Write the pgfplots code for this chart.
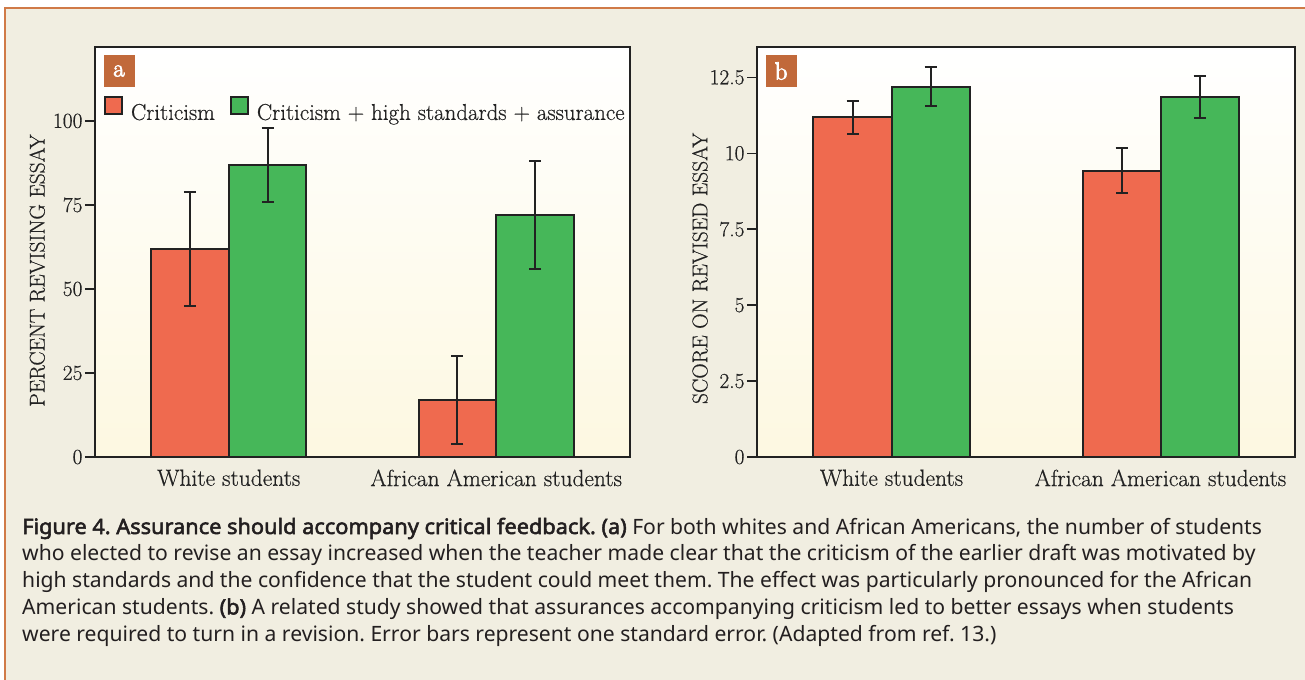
\documentclass[border=0pt]{standalone}
\usepackage{pgfplots}
\pgfplotsset{compat=1.18}
\usepackage{fontspec}
\setmainfont{Latin Modern Roman}[FakeBold=0.5, BoldFont={Latin Modern Roman}, BoldFeatures={FakeBold=3}]
\newfontfamily\capfont{Noto Sans}[BoldFont={Noto Sans}, BoldFeatures={FakeBold=2.5, FakeStretch=1.03}]
\definecolor{bgbeige}{RGB}{241,238,225}
\definecolor{barred}{RGB}{239,106,79}
\definecolor{bargreen}{RGB}{70,183,89}
\definecolor{labelorange}{RGB}{193,105,58}
\definecolor{borderorange}{RGB}{208,122,71}
\definecolor{cream}{RGB}{253,248,225}
\definecolor{axisdark}{RGB}{34,34,34}
\definecolor{captext}{RGB}{35,31,32}

\pgfplotsset{
  panel/.style={
    width=535bp, height=410bp, scale only axis, anchor=south west,
    axis background/.style={top color=white, bottom color=cream},
    axis line style={line width=2.2bp, draw=axisdark},
    ybar=0pt, bar width=0.29,
    xmin=-0.5, xmax=1.5, ymin=0,
    xtick={0,1}, xticklabels={White students, African American students},
    xtick style={draw=none},
    ytick pos=left, tick align=outside, major tick length=10bp,
    ytick style={line width=1.6bp, draw=axisdark},
    yticklabel style={font=\fontsize{21.5}{24}\selectfont, text=axisdark, xshift=1bp},
    xticklabel style={font=\fontsize{23.5}{26}\selectfont, text=axisdark, yshift=1bp},
    ylabel style={font=\fontsize{21.5}{24}\selectfont, text=axisdark, at={(axis description cs:-0.108,0.455)}, anchor=center},
    every axis plot/.append style={draw=axisdark, line width=2bp,
      error bars/y dir=both, error bars/y explicit,
      error bars/error bar style={line width=2bp, draw=axisdark},
      error bars/error mark options={rotate=90, mark size=6bp, line width=2bp, draw=axisdark}},
  },
}

\begin{document}
\frenchspacing
\begin{tikzpicture}
\useasboundingbox (0bp,0bp) rectangle (1305bp,-680bp);
\fill[white] (0bp,0bp) rectangle (1305bp,-680bp);
\fill[bgbeige] (5bp,-8bp) rectangle (1305bp,-680bp);
\draw[borderorange, line width=1.5bp] (5bp,-680bp) -- (5bp,-8bp) -- (1305bp,-8bp);

% Panel a
\begin{axis}[panel, at={(95bp,-457bp)}, width=535bp,
  ymax=122, ytick={0,25,50,75,100}, yticklabels={0,25,50,75,100},
  ylabel={PERCENT REVISING ESSAY},
  legend style={draw=none, fill=none, inner sep=0pt, outer sep=0pt,
    at={(axis description cs:0.0168,0.8475)}, anchor=west,
    font=\fontsize{23}{26}\selectfont, text=axisdark,
    /tikz/every odd column/.append style={column sep=6bp},
    /tikz/every even column/.append style={column sep=13bp}},
  legend columns=2,
  legend image code/.code={\draw[#1, line width=2bp, draw=axisdark] (0bp,-1bp) rectangle (17bp,16bp);},
]
\addplot[fill=barred] coordinates {(0,62) +- (0,17) (1,17) +- (0,13)};
\addplot[fill=bargreen] coordinates {(0,87) +- (0,11) (1,72) +- (0,16)};
\legend{Criticism, Criticism + high standards + assurance}
\end{axis}

% Panel b
\begin{axis}[panel, at={(757bp,-457bp)}, width=538bp,
  ymax=13.5, ytick={0,2.5,5,7.5,10,12.5}, yticklabels={0,2.5,5,7.5,10,12.5},
  ylabel={SCORE ON REVISED ESSAY},
  ylabel style={at={(axis description cs:-0.106,0.46)}},
]
\addplot[fill=barred] coordinates {(0,11.18) +- (0,0.55) (1,9.42) +- (0,0.74)};
\addplot[fill=bargreen] coordinates {(0,12.19) +- (0,0.64) (1,11.85) +- (0,0.69)};
\end{axis}

\node[fill=labelorange, minimum width=31bp, minimum height=32bp, inner sep=0pt, text=white, font=\fontsize{25}{26}\selectfont\bfseries] at (119bp,-71bp) {a};
\node[fill=labelorange, minimum width=31bp, minimum height=32bp, inner sep=0pt, text=white, font=\fontsize{25}{26}\selectfont\bfseries] at (781bp,-71bp) {b};

\begin{scope}[every node/.style={anchor=base west, inner sep=0pt, text=captext, font=\capfont\fontsize{21.2}{24}\selectfont}]
\node at (22bp,-534bp) {\textbf{Figure 4. Assurance should accompany critical feedback. (a)} For both whites and African Americans, the number of students};
\node at (22bp,-560.8bp) {who elected to revise an essay increased when the teacher made clear that the criticism of the earlier draft was motivated by};
\node at (22bp,-587.6bp) {high standards and the confidence that the student could meet them. The effect was particularly pronounced for the African};
\node at (22bp,-614.4bp) {American students. \textbf{(b)} A related study showed that assurances accompanying criticism led to better essays when students};
\node at (22bp,-641.2bp) {were required to turn in a revision. Error bars represent one standard error. (Adapted from ref. 13.)};
\end{scope}
\end{tikzpicture}
\end{document}
